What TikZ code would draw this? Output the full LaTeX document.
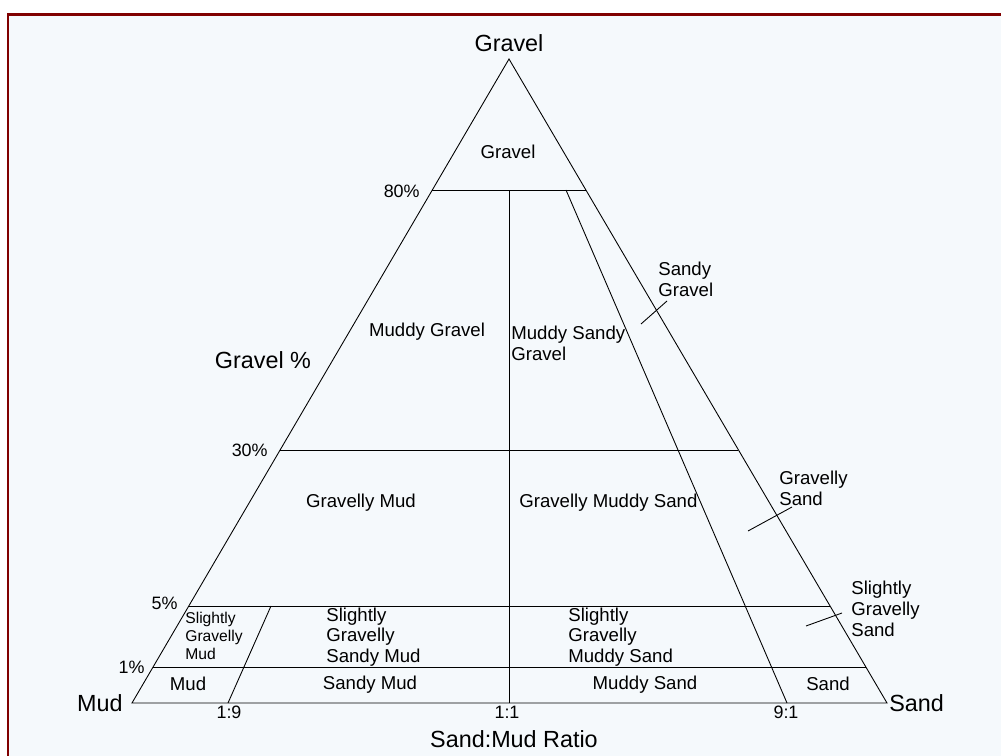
\documentclass[tikz,border=0pt]{standalone}
\usepackage{fontspec}
\setmainfont{Liberation Sans}
\usepackage{tikz}
\definecolor{framered}{RGB}{128,0,0}
\definecolor{paper}{RGB}{245,249,252}
\tikzstyle{line} = [draw, line width=0.5pt]
\tikzstyle{corner} = [font=\fontsize{13.3}{16}\selectfont, inner sep=0pt]
\tikzstyle{class} = [font=\fontsize{10.6}{11.8}\selectfont, inner sep=0pt, align=left]
\tikzstyle{small} = [font=\fontsize{8.9}{10.2}\selectfont, inner sep=0pt, align=left]
\tikzstyle{tick} = [font=\fontsize{10.2}{12}\selectfont, inner sep=0pt]

\begin{document}
\begin{tikzpicture}[x=0.02cm, y=-0.02cm]
        \useasboundingbox (0,0) rectangle (1001,756);
        \fill[paper] (8,14.5) rectangle (1012,770);
        \draw[framered, line width=1.7pt] (8,772) -- (8,14.5) -- (1012,14.5);
        \coordinate (gravel) at (509,59);
        \coordinate (mud) at (132,703);
        \coordinate (sand) at (887,703);
        \coordinate (g80l) at (432,190);
        \coordinate (g80r) at (586,190);
        \coordinate (g30l) at (280,450);
        \coordinate (g30r) at (738,450);
        \coordinate (g5l) at (189,606);
        \coordinate (g5r) at (830,606);
        \coordinate (g1l) at (153,667);
        \coordinate (g1r) at (866,667);
        \coordinate (r19b) at (228,703);
        \coordinate (r19t) at (271,606);
        \coordinate (r11b) at (509,703);
        \coordinate (r11t) at (509,190);
        \coordinate (r91b) at (787,703);
        \coordinate (r91t) at (566,190);
        \path[line] (gravel) -- (mud) -- (sand) -- cycle;
        \path[line] (g80l) -- (g80r);
        \path[line] (g30l) -- (g30r);
        \path[line] (g5l) -- (g5r);
        \path[line] (g1l) -- (g1r);
        \path[line] (r19b) -- (r19t);
        \path[line] (r11b) -- (r11t);
        \path[line] (r91b) -- (r91t);
        \coordinate (sgA) at (641,324);
        \coordinate (sgB) at (667,301);
        \coordinate (gsA) at (748,531);
        \coordinate (gsB) at (792,507);
        \coordinate (sgsA) at (806,626);
        \coordinate (sgsB) at (842,613);
        \path[line] (sgA) -- (sgB);
        \path[line] (gsA) -- (gsB);
        \path[line] (sgsA) -- (sgsB);
        \node[corner, anchor=base] (gravellbl) at (509,52) {Gravel};
        \node[corner, anchor=east] (mudlbl) at (123,703) {Mud};
        \node[corner, anchor=west] (sandlbl) at (889,703) {Sand};
        \node[corner] (gravelpct) at (263,360) {Gravel \%};
        \node[corner] (ratio) at (514,739) {Sand:Mud Ratio};
        \node[tick, anchor=east] (p80) at (420,191) {80\%};
        \node[tick, anchor=east] (p30) at (268,450) {30\%};
        \node[tick, anchor=east] (p5) at (178,603) {5\%};
        \node[tick, anchor=east] (p1) at (145,667) {1\%};
        \node[tick] (q19) at (229,712) {1:9};
        \node[tick] (q11) at (507,712) {1:1};
        \node[tick] (q91) at (786,712) {9:1};
        \node[class] (cG) at (508,152) {Gravel};
        \node[class] (cMG) at (427,332) {Muddy Gravel};
        \node[class, anchor=west] (cMSG) at (511,343) {Muddy Sandy\\Gravel};
        \node[class, anchor=west] (cSG) at (658,279) {Sandy\\Gravel};
        \node[class] (cGM) at (361,503) {Gravelly Mud};
        \node[class, anchor=west] (cGMS) at (519,503) {Gravelly Muddy Sand};
        \node[class, anchor=west] (cGS) at (779,488) {Gravelly\\Sand};
        \node[small, anchor=west] (csGM) at (185,636) {Slightly\\Gravelly\\Mud};
        \node[class, anchor=west] (csGSM) at (326,637) {Slightly\\Gravelly\\Sandy Mud};
        \node[class, anchor=west] (csGMS) at (568,637) {Slightly\\Gravelly\\Muddy Sand};
        \node[class, anchor=west] (csGS) at (851,609) {Slightly\\Gravelly\\Sand};
        \node[class] (cM) at (188,684) {Mud};
        \node[class] (cSM) at (370,685) {Sandy Mud};
        \node[class] (cMS) at (645,685) {Muddy Sand};
        \node[class] (cS) at (828,684) {Sand};
    \end{tikzpicture}
\end{document}
